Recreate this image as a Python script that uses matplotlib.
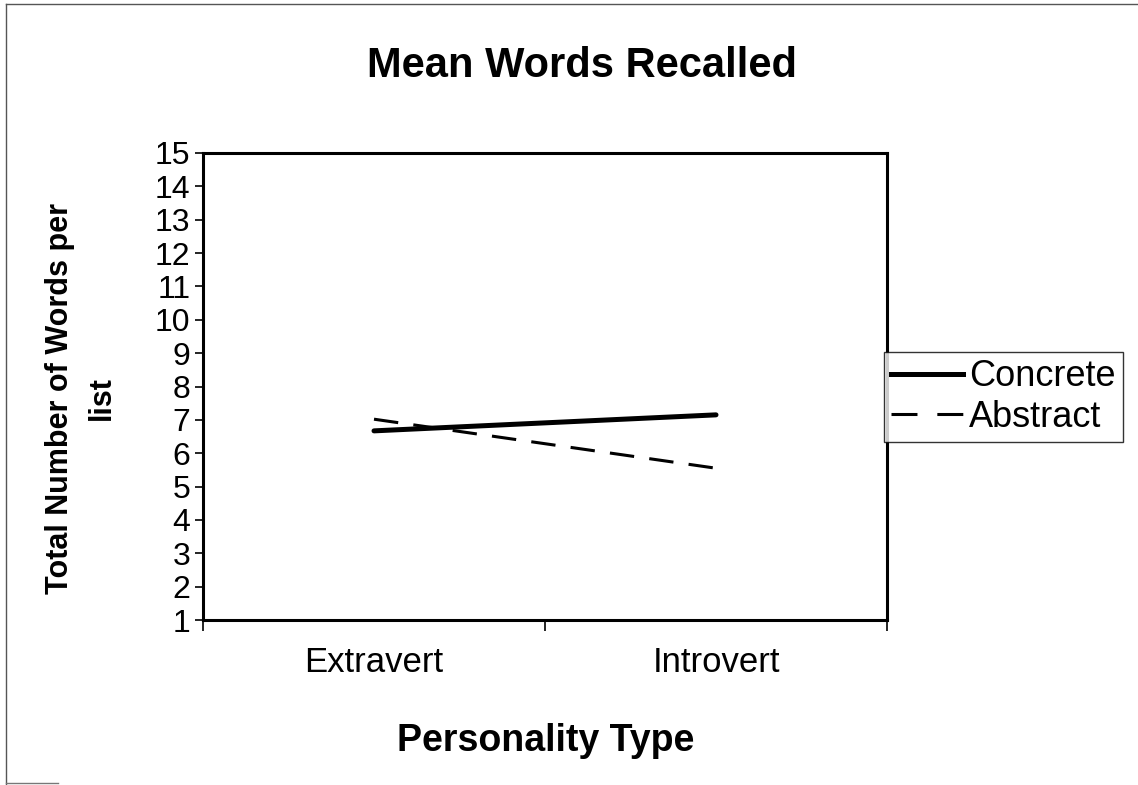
import matplotlib
matplotlib.use("Agg")
import matplotlib.pyplot as plt
from matplotlib.lines import Line2D

# data
groups = ["Extravert", "Introvert"]
concrete = [6.67, 7.15]
abstract = [7.02, 5.55]
yticks = list(range(1, 16))

plt.rcParams["font.family"] = ["Liberation Sans", "DejaVu Sans"]

W, H = 1138, 785
fig = plt.figure(figsize=(W / 100, H / 100), dpi=100)

# plot area in pixel coords of the reference
x0, x1, ytop, ybot = 203, 887, 153, 620
ax = fig.add_axes([x0 / W, (H - ybot) / H, (x1 - x0) / W, (ybot - ytop) / H])

xs = [0.5, 1.5]
ax.plot(xs, concrete, color="black", lw=3.6, solid_capstyle="round", label="Concrete")
ax.plot(xs, abstract, color="black", lw=2.2, linestyle=(0, (8, 5)), label="Abstract")

ax.set_xlim(0, 2)
ax.set_ylim(1, 15)
ax.set_yticks(yticks)
ax.set_yticklabels([str(v) for v in yticks], fontsize=23)
ax.set_xticks([0, 1, 2])
ax.set_xticklabels([])
ax.tick_params(axis="y", direction="out", length=6, width=1.2, pad=3)
ax.tick_params(axis="x", direction="out", length=8, width=1.2)
for s in ax.spines.values():
    s.set_linewidth(2.2)

# category labels under the axis
for x, g in zip(xs, groups):
    ax.text(x, -0.09, g, transform=ax.get_xaxis_transform(), ha="center",
            va="center", fontsize=25)

fig.text(582 / W, 1 - 66 / H, "Mean Words Recalled", ha="center", va="center",
         fontsize=30, fontweight="bold")
fig.text(546 / W, 1 - 741 / H, "Personality Type", ha="center", va="center",
         fontsize=27, fontweight="bold")
fig.text(81 / W, 1 - 398 / H, "Total Number of Words per\nlist", ha="center",
         va="center", rotation=90, fontsize=22, fontweight="bold",
         linespacing=1.5)

# legend box sits over the right spine
handles = [Line2D([], [], color="black", lw=3.6),
           Line2D([], [], color="black", lw=2.2, linestyle=(0, (8.5, 6.5)))]
leg = fig.legend(handles, ["Concrete", "Abstract"], loc="center left",
                 bbox_to_anchor=(884 / W, 1 - 397 / H), fontsize=26,
                 frameon=True, fancybox=False, edgecolor="black",
                 handlelength=2.0, handletextpad=0.15, borderpad=0.2,
                 labelspacing=0.15, borderaxespad=0)
leg.get_frame().set_linewidth(1.0)

# scanned page border
fig.add_artist(Line2D([6 / W, 6 / W], [0, 1 - 4 / H], color="#555555", lw=1.0))
fig.add_artist(Line2D([6 / W, 1], [1 - 4 / H, 1 - 4 / H], color="#555555", lw=1.0))
fig.add_artist(Line2D([6 / W, 58 / W], [1 - 783 / H, 1 - 783 / H], color="#777777", lw=1.0))

fig.savefig("out.png", dpi=100)
